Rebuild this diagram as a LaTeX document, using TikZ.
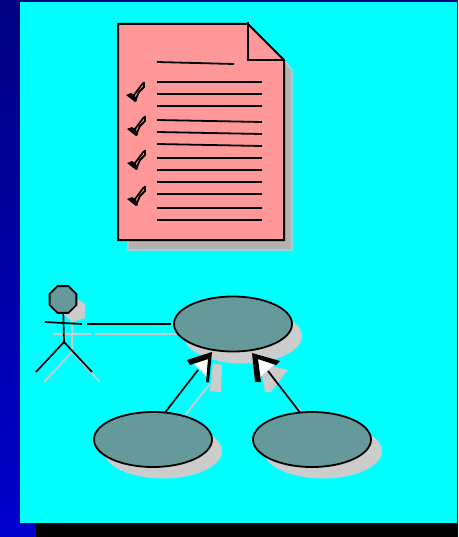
\documentclass[tikz,border=0pt]{standalone}
\usetikzlibrary{shapes.geometric}
\definecolor{bgcyan}{RGB}{0,255,255}
\definecolor{navytop}{RGB}{0,0,128}
\definecolor{navybot}{RGB}{0,0,205}
\definecolor{sheetpink}{RGB}{255,153,153}
\definecolor{caseteal}{RGB}{102,153,153}
\definecolor{shadowgray}{RGB}{204,204,204}
\definecolor{sheetshadow}{RGB}{178,178,178}
\tikzset{
	ucase/.style={ellipse,draw=black,line width=1.8pt,fill=caseteal,inner sep=0pt,outer sep=0pt,minimum width=118pt,minimum height=55pt},
	ucshadow/.style={ellipse,fill=shadowgray,inner sep=0pt,minimum width=118pt,minimum height=55pt},
	textline/.style={line width=1.8pt},
	stick/.style={line width=1.7pt},
	stickshadow/.style={line width=1.7pt,color=shadowgray}
}
\begin{document}
\begin{tikzpicture}[x=1pt,y=-1pt,line cap=butt,line join=miter]
	\useasboundingbox (0,0) rectangle (458,537);
	% background
	\fill[black] (0,0) rectangle (458,537);
	\shade[top color=navytop,bottom color=navybot] (0,0) rectangle (20,537);
	\fill[navybot] (0,523) rectangle (36,537);
	\fill[navytop] (20,0) rectangle (458,2);
	\fill[navytop] (457,0) rectangle (458,523);
	\fill[bgcyan] (20,2) rectangle (457,523);
	% sheet
	\fill[sheetshadow,draw=shadowgray,line width=1.2pt] (128,240) -- (128,250) -- (292,250) -- (292,70) -- (284,60) -- (284,240) -- cycle;
	\draw[fill=sheetpink,line width=2pt] (118,24) -- (248,24) -- (284,60) -- (284,240) -- (118,240) -- cycle;
	\draw[line width=2pt] (248,22) -- (248,60) -- (284,60);
	\draw[textline] (157,62) -- (234,64);
	\foreach \y in {82,94,106,158,170,182,194,208,220}{\draw[textline] (157,\y) -- (262,\y);}
	\foreach \y in {120,132,144}{\draw[textline] (157,\y) -- (262,\y+2);}
	\tikzset{tick/.pic={
			\fill (-10,-7) -- (-5,-9) -- (-1,-6) -- (1,-1) -- (-1,0) -- cycle;
			\draw[line width=1.8pt] (-1,-1) -- (-2,-7) -- (7,-19);
			\draw[line width=1.8pt] (-1,-1) -- (3,-10) -- (8,-15) -- (8,-20);
	}}
	\pic at(136,102) {tick};
	\foreach \y in {136,170,206}{\pic at(137,\y) {tick};}
	% actor shadow
	\fill[shadowgray] (61,312) -- (72,296) -- (85,304) -- (85,318) -- (72,322) -- cycle;
	\draw[stickshadow] (72,313) -- (72,352) (53,334) -- (91,334) (44,382) -- (72,352) -- (100,382) (95,334) -- (178,334);
	% use case shadows
	\node[ucshadow] (shadowTop) at (243,336) {};
	\node[ucshadow] (shadowLeft) at (163,451) {};
	\node[ucshadow] (shadowRight) at (323,451) {};
	% arrow shadows
	\fill[shadowgray] (213,363) -- (222,365) -- (221,392) -- (210,391) -- cycle;
	\fill[shadowgray] (262,375) -- (264,364) -- (288,370) -- (283,376) -- (271,392) -- (265,392) -- cycle;
	\draw[stickshadow] (185,415) -- (210,384);
	\draw[stickshadow] (302,413) -- (298,408);
	% use cases
	\node[ucase] (ucTop) at (233,324) {};
	\node[ucase] (ucLeft) at (153,439.5) {};
	\node[ucase] (ucRight) at (312,439.5) {};
	% actor
	\node[regular polygon,regular polygon sides=8,draw=black,line width=1.8pt,fill=caseteal,inner sep=0pt,minimum size=29pt] (head) at (63,299.5) {};
	\coordinate (hip) at (64,342);
	\coordinate (assocEnd) at (87,324);
	\draw[stick] (head) -- (hip) (45,322) -- (82,324) (36,372) -- (hip) -- (92,372);
	\draw[stick,shorten >=3pt] (assocEnd) -- (ucTop);
	% arrows
	\coordinate (baseLeft) at (198,370);
	\coordinate (baseRight) at (268,371);
	\fill[white] (193,363) -- (208,358) -- (207,377) -- cycle;
	\fill[white] (257,358) -- (275,364) -- (260,377) -- cycle;
	\draw[stick] (ucLeft.66) -- (baseLeft);
	\draw[stick] (ucRight.114) -- (baseRight);
	\fill (187,360) -- (212,352) -- (209,382) -- (206,382) -- (208,359) -- (190,365) -- cycle;
	\fill (252,353) -- (280,361) -- (276,365) -- (258,359) -- (261,382) -- (255,382) -- cycle;
\end{tikzpicture}
\end{document}
